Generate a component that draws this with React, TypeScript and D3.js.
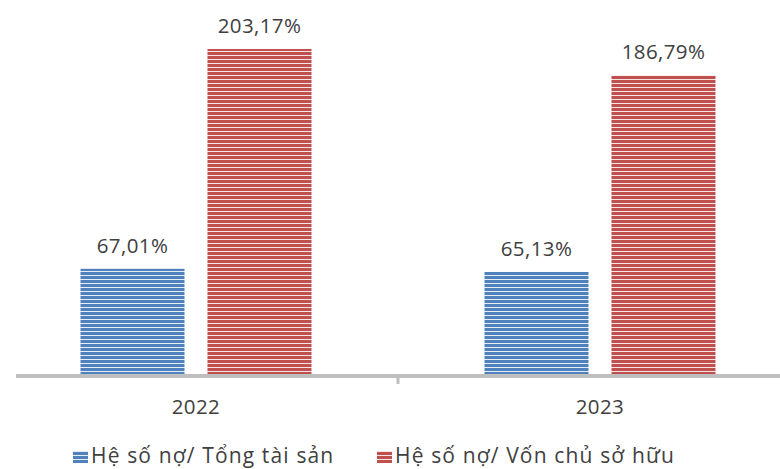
import React from "react";
import * as d3 from "d3";

// Debt ratios by year
const years = ["2022", "2023"];
const seriesNames = ["Hệ số nợ/ Tổng tài sản", "Hệ số nợ/ Vốn chủ sở hữu"];
const debtToAssets = [67.01, 65.13];
const debtToEquity = [203.17, 186.79];
const seriesValues = [debtToAssets, debtToEquity];
const seriesColors = ["#4f81bd", "#c0504d"];

const W = 780;
const H = 469;
const FONT = "'Open Sans', 'Noto Sans', sans-serif";
const TEXT = "#404040";

const fmt = (v: number) => v.toFixed(2).replace(".", ",") + "%";

export default function App() {
  const x0 = d3.scaleBand<string>().domain(years).range([-6, 802]).padding(0);
  const groupW = 231;
  const x1 = d3
    .scaleBand<number>()
    .domain(seriesNames.map((_, i) => i))
    .range([0, groupW])
    .paddingInner(0.181)
    .paddingOuter(0);
  const y = d3.scaleLinear().domain([0, 203.17]).range([377, 49]);
  const baseY = y(0);

  return (
    <div style={{ position: "absolute", left: 0, top: 0 }}>
      <svg width={W} height={H} style={{ display: "block", background: "#fff" }}>
        <defs>
          {seriesColors.map((c, i) => (
            <pattern
              key={i}
              id={`stripe${i}`}
              patternUnits="userSpaceOnUse"
              width={8}
              height={4}
              y={0}
            >
              <rect width={8} height={4} fill={c} />
              <rect y={3} width={8} height={1} fill="#fff" opacity={0.85} />
            </pattern>
          ))}
        </defs>

        {years.map((yr, yi) => {
          const gx = (x0(yr) as number) + (x0.bandwidth() - groupW) / 2;
          return (
            <g key={yr}>
              {seriesValues.map((vals, si) => {
                const v = vals[yi];
                const bx = gx + (x1(si) as number);
                const top = y(v);
                return (
                  <g key={si}>
                    <rect
                      x={bx}
                      y={top}
                      width={x1.bandwidth()}
                      height={baseY - top}
                      fill={`url(#stripe${si})`}
                    />
                    <text
                      x={bx + x1.bandwidth() / 2}
                      y={top - 16}
                      textAnchor="middle"
                      fontFamily={FONT}
                      fontSize={20.5}
                      letterSpacing={0.4}
                      fill={TEXT}
                    >
                      {fmt(v)}
                    </text>
                  </g>
                );
              })}
              <text
                x={(x0(yr) as number) + x0.bandwidth() / 2}
                y={414}
                textAnchor="middle"
                fontFamily={FONT}
                fontSize={20.5}
                letterSpacing={0.4}
                fill={TEXT}
              >
                {yr}
              </text>
            </g>
          );
        })}

        {/* category axis */}
        <line x1={16} x2={W} y1={376} y2={376} stroke="#bfbfbf" strokeWidth={4} />
        <line
          x1={x0("2023") as number}
          x2={x0("2023") as number}
          y1={376}
          y2={384}
          stroke="#bfbfbf"
          strokeWidth={3}
        />

        {/* legend */}
        {seriesNames.map((name, i) => {
          const lx = i === 0 ? 73 : 377;
          return (
            <g key={name}>
              <rect x={lx} y={451} width={15} height={12} fill={`url(#stripe${i})`} />
              <text
                x={lx + 18}
                y={463}
                fontFamily={FONT}
                fontSize={21}
                letterSpacing={1.15}
                fill={TEXT}
              >
                {name}
              </text>
            </g>
          );
        })}
      </svg>
    </div>
  );
}
